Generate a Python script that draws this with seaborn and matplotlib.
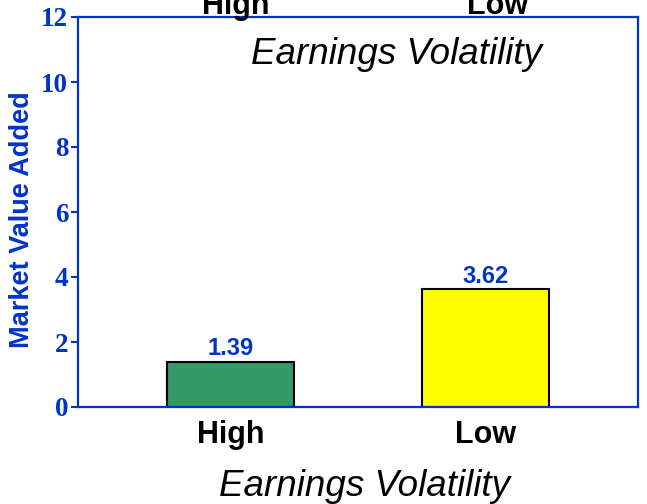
import pandas as pd
import seaborn as sns
import matplotlib.pyplot as plt
import matplotlib.transforms as mtransforms

# data
categories = ['High', 'Low']
values = [1.39, 3.62]
bar_colors = ['#339966', '#FFFF00']
title_text = 'Earnings Volatility'
ylabel_text = 'Market Value Added'

BLUE = '#0033CC'

sns.set_style("white")
plt.rcParams['font.family'] = ['Liberation Sans', 'DejaVu Sans']

df = pd.DataFrame({'Volatility': categories, 'MVA': values})

fig = plt.figure(figsize=(6.47, 5.04), dpi=100)
ax = fig.add_axes([78 / 647, 97 / 504, 560 / 647, 390 / 504])

sns.barplot(data=df, x='Volatility', y='MVA', hue='Volatility',
            palette=dict(zip(categories, bar_colors)), legend=False, saturation=1,
            width=0.5, edgecolor='black', linewidth=1.5, ax=ax)

for c in ax.containers:
    ax.bar_label(c, fmt='%.2f', padding=1, color=BLUE, fontsize=17, fontweight='bold')

ax.set_xlim(-0.6, 1.6)
ax.set_ylim(0, 12)
ax.set_yticks(range(0, 13, 2))

for s in ax.spines.values():
    s.set_visible(True)
    s.set_color(BLUE)
    s.set_linewidth(1.6)

ax.tick_params(axis='y', left=True, length=5, width=1.5, color=BLUE, pad=2)
ax.tick_params(axis='x', bottom=False, pad=6)
for lbl in ax.get_yticklabels():
    lbl.set_family('Liberation Serif')
    lbl.set_fontweight('bold')
    lbl.set_fontsize(19.5)
    lbl.set_color(BLUE)
for lbl in ax.get_xticklabels():
    lbl.set_fontweight('bold')
    lbl.set_fontsize(22)
    lbl.set_color('black')

ax.set_ylabel(ylabel_text, color=BLUE, fontsize=19.5, fontweight='bold', va='center')
ax.yaxis.set_label_coords(-0.1, 0.48)
ax.set_xlabel(title_text, fontsize=26.5, fontstyle='italic', color='black')
ax.xaxis.label.set_va('center')
ax.xaxis.set_label_coords(0.511, -0.205)

# title inside the frame
ax.text(0.568, 0.903, title_text, transform=ax.transAxes, ha='center', va='center',
        fontsize=26.5, fontstyle='italic', color='black')

# duplicated category labels clipped at the top edge
trans = mtransforms.blended_transform_factory(ax.transData, ax.transAxes)
for i, cat in enumerate(categories):
    ax.text(i + 0.02 + 0.03 * i, 1.008, cat, transform=trans, ha='center', va='baseline',
            fontsize=22, fontweight='bold', color='black')

fig.savefig('out.png', dpi=100)
